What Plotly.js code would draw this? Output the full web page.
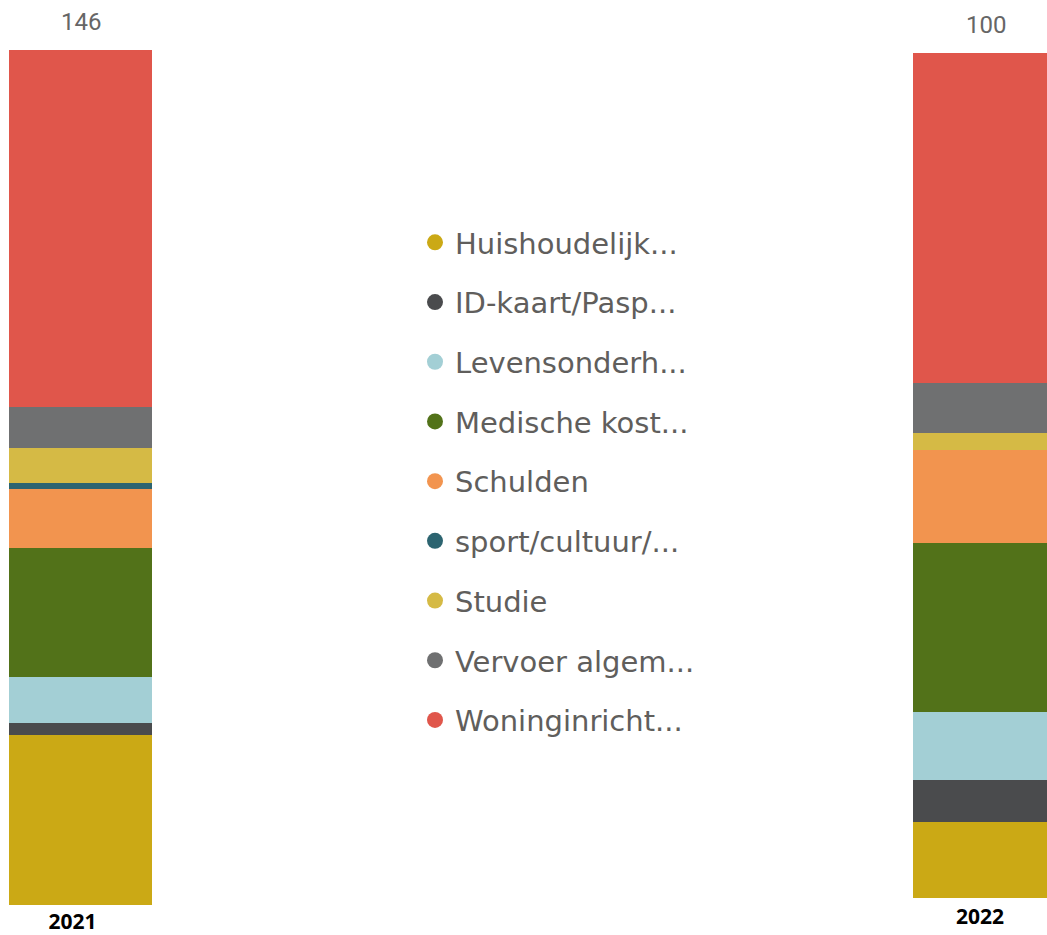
<!DOCTYPE html>
<html><head><meta charset="utf-8">
<script src="https://cdn.plot.ly/plotly-3.0.1.min.js"></script>
<style>html,body{margin:0;padding:0;background:#fff;}#chart{width:1047px;height:935px;}</style>
</head><body><div id="chart"></div>
<script>
const years = ["2021", "2022"];
const categories = ["Huishoudelijk...", "ID-kaart/Pasp...", "Levensonderh...", "Medische kost...", "Schulden", "sport/cultuur/...", "Studie", "Vervoer algem...", "Woninginricht..."];
const colors = ["#CBA915", "#4A4B4D", "#A3CFD5", "#527219", "#F2944F", "#2C6470", "#D5BA45", "#6F7071", "#E0564B"];
const values2021 = [29, 2, 8, 22, 10, 1, 6, 7, 61];
const values2022 = [9, 5, 8, 20, 11, 0, 2, 6, 39];

const total2021 = values2021.reduce((a, b) => a + b, 0);
const total2022 = values2022.reduce((a, b) => a + b, 0);

const traces = [];
categories.forEach((c, i) => {
  traces.push({type: "bar", x: [years[0]], y: [values2021[i]], name: c, marker: {color: colors[i]},
    xaxis: "x", yaxis: "y", showlegend: false, width: 1, hoverinfo: "name+y"});
  traces.push({type: "bar", x: [years[1]], y: [values2022[i]], name: c, marker: {color: colors[i]},
    xaxis: "x2", yaxis: "y2", showlegend: false, width: 1, hoverinfo: "name+y"});
});
categories.forEach((c, i) => {
  traces.push({type: "scatter", mode: "markers", x: [null], y: [null], name: c, legendgroup: c,
    marker: {color: colors[i], size: 20, symbol: "circle"}, xaxis: "x", yaxis: "y"});
});

const axisBase = {showgrid: false, zeroline: false, showline: false, fixedrange: true};
const yearFont = {family: "Open Sans", size: 21, color: "#000"};
const layout = {
  width: 1047, height: 935,
  margin: {l: 0, r: 0, t: 0, b: 0},
  paper_bgcolor: "#ffffff", plot_bgcolor: "#ffffff",
  barmode: "stack",
  showlegend: true,
  legend: {x: 415/1047, y: 1 - 217/935, xanchor: "left", yanchor: "top",
    font: {family: "DejaVu Sans", size: 29, color: "#605E5C"},
    traceorder: "grouped", tracegroupgap: 19, bgcolor: "rgba(0,0,0,0)"},
  xaxis: Object.assign({}, axisBase, {domain: [9/1047, 152/1047], type: "category", range: [-0.5, 0.5],
    tickvals: [years[0]], ticktext: ["<b>" + years[0] + "</b>"], ticklabelstandoff: 2, ticklabelshift: -8,
    tickfont: yearFont, ticks: "", anchor: "y"}),
  yaxis: Object.assign({}, axisBase, {domain: [30/935, 885/935], range: [0, total2021], showticklabels: false, anchor: "x"}),
  xaxis2: Object.assign({}, axisBase, {domain: [913/1047, 1], type: "category", range: [-0.5, 0.5],
    tickvals: [years[1]], ticktext: ["<b>" + years[1] + "</b>"], ticklabelstandoff: 4,
    tickfont: yearFont, ticks: "", anchor: "y2"}),
  yaxis2: Object.assign({}, axisBase, {domain: [37/935, 882/935], range: [0, total2022], showticklabels: false, anchor: "x2"}),
  annotations: [
    {xref: "x domain", yref: "y domain", x: 0.5, y: 1, text: String(total2021), showarrow: false,
     yanchor: "bottom", yshift: 12, font: {family: "Roboto", size: 24, color: "#666666"}},
    {xref: "x2 domain", yref: "y2 domain", x: 0.5, y: 1, text: String(total2022), showarrow: false,
     yanchor: "bottom", yshift: 12, xshift: 6, font: {family: "Roboto", size: 24, color: "#666666"}}
  ]
};
Plotly.newPlot("chart", traces, layout, {displayModeBar: false, staticPlot: true});
</script>
</body></html>
